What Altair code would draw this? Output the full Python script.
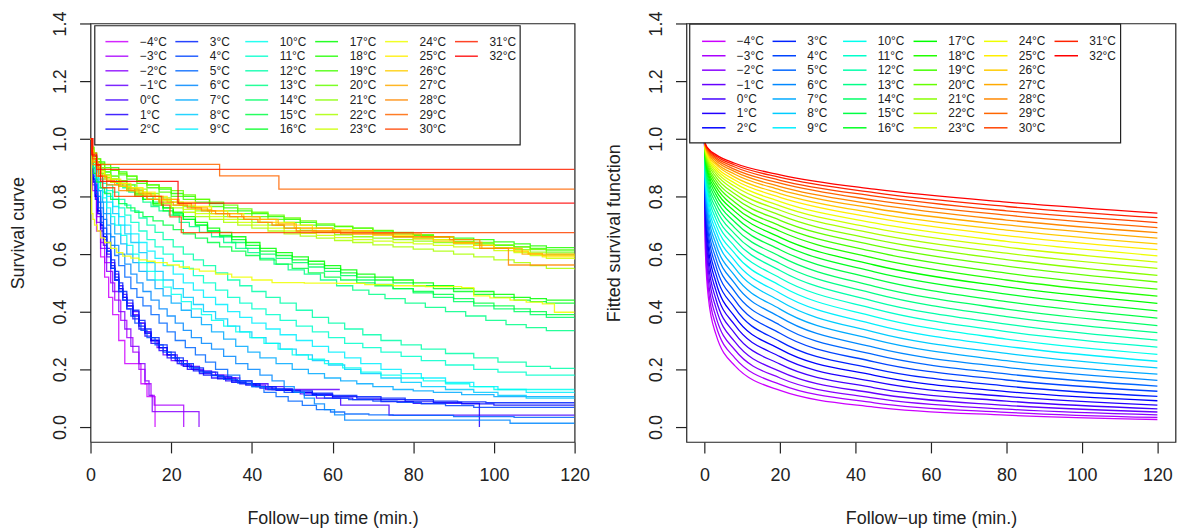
import altair as alt
import pandas as pd

FONT = "Liberation Sans"
INK = "#222222"

# ---------------- categories ----------------
temps = [-4, -3, -2, -1, 0, 1, 2, 3, 4, 5, 6, 7, 8, 9, 10, 11, 12, 13, 14, 15, 16,
         17, 18, 19, 20, 21, 22, 23, 24, 25, 26, 27, 28, 29, 30, 31, 32]
temp_colors = ["#CC00FF", "#AA00FF", "#8800FF", "#6600FF", "#4400FF", "#2200FF", "#0000FF",
               "#0022FF", "#0044FF", "#0066FF", "#0088FF", "#00AAFF", "#00CCFF", "#00EEFF",
               "#00FFEE", "#00FFCC", "#00FFAA", "#00FF88", "#00FF66", "#00FF44", "#00FF22",
               "#00FF00", "#22FF00", "#44FF00", "#66FF00", "#88FF00", "#AAFF00", "#CCFF00",
               "#EEFF00", "#FFEE00", "#FFCC00", "#FFAA00", "#FF8800", "#FF6600", "#FF4400",
               "#FF2200", "#FF0000"]

# ---------------- left panel: Kaplan-Meier curves (time, survival) ----------------
km_m4 = [(0, 1.0), (0.5, 0.82), (1.5, 0.68), (2.5, 0.59), (3.5, 0.52), (4.5, 0.45), (5.5, 0.39),
         (7, 0.30), (8.5, 0.22), (12.5, 0.15), (14, 0.105), (16, 0.0)]
km_m3 = [(0, 1.0), (0.5, 0.85), (1.5, 0.73), (2.5, 0.64), (3.5, 0.57), (5, 0.50), (6, 0.44),
         (7.5, 0.37), (9, 0.31), (10.5, 0.26), (12, 0.20), (13.5, 0.15), (15, 0.11), (15.8, 0.076), (23.1, 0.0)]
km_m2 = [(0, 1.0), (0.5, 0.84), (1.5, 0.71), (2.5, 0.62), (4, 0.54), (5.5, 0.47), (7, 0.40),
         (8.5, 0.34), (10, 0.28), (12, 0.22), (13.5, 0.16), (14.5, 0.11), (15.3, 0.053), (26.9, 0.0)]
km_m1 = [(0, 1.0), (0.3, 0.92), (0.7, 0.86), (1.2, 0.80), (1.8, 0.74), (2.5, 0.68), (3.2, 0.63), (4, 0.59),
         (5, 0.55), (6, 0.51), (7, 0.48), (8, 0.45), (9, 0.42), (10.5, 0.39), (12, 0.36), (13.5, 0.33),
         (15, 0.30), (16.5, 0.275), (18, 0.25), (20, 0.23), (22.5, 0.215), (25, 0.20), (28, 0.19),
         (31, 0.18), (34, 0.17), (37, 0.16), (40, 0.145), (43.4, 0.13), (61.8, 0.13)]
km_0 = [(0, 1.0), (0.3, 0.92), (0.7, 0.86), (1.2, 0.80), (1.8, 0.75), (2.5, 0.70), (3.2, 0.66), (4, 0.62),
        (5, 0.57), (6, 0.53), (7, 0.49), (8, 0.46), (9, 0.43), (10.5, 0.40), (12, 0.36), (13.5, 0.33),
        (15, 0.30), (17, 0.275), (19, 0.25), (21.5, 0.23), (24, 0.21), (27, 0.195), (30, 0.18), (33, 0.17),
        (36, 0.16), (40, 0.15), (44, 0.14), (48, 0.127), (52, 0.115), (56, 0.10), (62, 0.076), (74, 0.041),
        (120, 0.041)]
km_1 = [(0, 1.0), (0.3, 0.91), (0.7, 0.85), (1.2, 0.79), (1.8, 0.74), (2.5, 0.69), (3.2, 0.65), (4, 0.60),
        (5, 0.55), (6, 0.51), (7, 0.47), (8, 0.44), (9, 0.41), (10.5, 0.375), (12, 0.34), (13.5, 0.315),
        (15, 0.29), (17, 0.265), (19, 0.24), (21.5, 0.22), (24, 0.20), (27, 0.185), (30, 0.17), (33.5, 0.16),
        (37, 0.15), (41, 0.14), (45, 0.13), (50, 0.12), (55, 0.11), (60, 0.10), (65, 0.095), (72, 0.088),
        (80, 0.082), (96.4, 0.0)]
km_2 = [(0, 1.0), (0.3, 0.92), (0.7, 0.86), (1.2, 0.80), (1.8, 0.75), (2.5, 0.70), (3.2, 0.66), (4, 0.61),
        (5, 0.56), (6, 0.52), (7, 0.48), (8, 0.45), (9, 0.42), (10.5, 0.385), (12, 0.35), (13.5, 0.325),
        (15, 0.30), (17, 0.275), (19, 0.25), (21, 0.23), (23, 0.21), (25.5, 0.195), (28, 0.18), (31.5, 0.167),
        (35, 0.155), (38.5, 0.145), (42, 0.135), (46, 0.127), (50, 0.12), (55, 0.112), (60, 0.105),
        (66, 0.10), (72, 0.095), (78, 0.09), (85, 0.085), (92, 0.08), (100, 0.076), (120, 0.076)]
km_3 = [(0, 1.0), (0.3, 0.93), (0.7, 0.88), (1.2, 0.82), (1.8, 0.78), (2.5, 0.73), (3.2, 0.69), (4, 0.64),
        (5, 0.58), (6, 0.54), (7, 0.50), (8, 0.47), (9, 0.44), (10.5, 0.405), (12, 0.37), (13.5, 0.34),
        (15, 0.31), (17, 0.285), (19, 0.26), (21, 0.24), (23, 0.22), (25.5, 0.205), (28, 0.19), (31.5, 0.175),
        (35, 0.16), (38.5, 0.15), (42, 0.14), (46, 0.132), (50, 0.125), (55, 0.117), (60, 0.11), (66, 0.105),
        (72, 0.10), (78, 0.095), (85, 0.09), (91, 0.087), (98, 0.084), (120, 0.084)]
km_4 = [(0, 1.0), (0.3, 0.92), (0.7, 0.87), (1.2, 0.81), (1.8, 0.76), (2.5, 0.71), (3.2, 0.67), (4, 0.61),
        (5, 0.55), (6, 0.51), (7, 0.47), (8, 0.44), (9, 0.41), (10, 0.385), (11, 0.36), (12.5, 0.335),
        (14, 0.31), (16, 0.285), (18, 0.26), (20, 0.24), (22, 0.22), (24.5, 0.205), (27, 0.19), (30, 0.178),
        (33, 0.165), (36.5, 0.152), (40, 0.14), (44, 0.13), (48, 0.12), (53, 0.11), (58, 0.10), (64, 0.095),
        (70, 0.09), (76, 0.085), (82, 0.08), (88, 0.074), (95, 0.068), (120, 0.068)]
km_5 = [(0, 1.0), (0.3, 0.94), (0.7, 0.90), (1.2, 0.84), (1.8, 0.80), (2.5, 0.76), (3.2, 0.72), (4, 0.67),
        (5, 0.63), (6, 0.595), (7, 0.56), (8.5, 0.52), (10, 0.48), (11.5, 0.45), (13, 0.42), (15, 0.39),
        (17, 0.36), (19, 0.33), (21, 0.30), (23.5, 0.275), (26, 0.25), (28.5, 0.225), (31, 0.20), (34, 0.18),
        (37, 0.16), (40, 0.14), (43, 0.12), (46, 0.105), (49, 0.09), (52.5, 0.075), (56, 0.06),
        (59.5, 0.052), (63, 0.045), (69, 0.042), (75, 0.04), (90, 0.036), (105, 0.033), (120, 0.033)]
km_6 = [(0, 1.0), (0.3, 0.94), (0.7, 0.90), (1.2, 0.86), (1.8, 0.82), (2.5, 0.78), (3.2, 0.74), (4, 0.70),
        (5, 0.66), (6, 0.63), (7, 0.60), (8.5, 0.565), (10, 0.53), (11.5, 0.50), (13, 0.47), (15, 0.44),
        (17, 0.41), (19, 0.385), (21, 0.36), (23, 0.335), (25, 0.31), (27.5, 0.29), (30, 0.27), (33, 0.245),
        (36, 0.22), (39, 0.20), (42, 0.18), (45, 0.16), (48, 0.14), (50.5, 0.12), (53, 0.10), (55.5, 0.08),
        (58, 0.06), (60.5, 0.042), (63, 0.024), (104, 0.013), (120, 0.013)]
km_7 = [(0, 1.0), (0.3, 0.94), (0.7, 0.90), (1.3, 0.86), (2, 0.82), (3, 0.78), (4, 0.74), (5, 0.705),
        (6, 0.67), (7.5, 0.635), (9, 0.60), (10.5, 0.57), (12, 0.54), (14, 0.51), (16, 0.48), (18, 0.455),
        (20, 0.43), (22.5, 0.405), (25, 0.38), (27.5, 0.355), (30, 0.33), (33, 0.305), (36, 0.28), (39, 0.26),
        (42, 0.24), (46, 0.22), (50, 0.20), (54, 0.185), (58, 0.17), (62, 0.16), (66, 0.15), (70, 0.14),
        (75, 0.13), (80, 0.125), (85, 0.12), (92, 0.112), (100, 0.105), (120, 0.105)]
km_8 = [(0, 1.0), (0.3, 0.96), (0.7, 0.92), (1.3, 0.885), (2, 0.85), (3, 0.815), (4, 0.78), (5.5, 0.74),
        (7, 0.70), (8.5, 0.67), (10, 0.64), (12, 0.605), (14, 0.57), (16, 0.54), (18, 0.51), (20.5, 0.48),
        (23, 0.45), (25.5, 0.425), (28, 0.40), (31, 0.375), (34, 0.35), (37, 0.33), (40, 0.31), (43.5, 0.29),
        (47, 0.27), (51, 0.25), (55, 0.23), (59, 0.215), (63, 0.20), (67, 0.185), (72, 0.17), (77, 0.155),
        (82, 0.14), (88, 0.13), (95, 0.12), (101, 0.11), (108, 0.10), (120, 0.099)]
km_9 = [(0, 1.0), (0.3, 0.96), (0.7, 0.92), (1.3, 0.89), (2, 0.86), (3, 0.83), (4, 0.80), (5.5, 0.765),
        (7, 0.73), (8.5, 0.70), (10, 0.67), (12, 0.64), (14, 0.61), (16, 0.585), (18, 0.56), (20.5, 0.53),
        (23, 0.50), (25.5, 0.475), (28, 0.45), (31, 0.425), (34, 0.40), (37, 0.38), (40, 0.36), (43.5, 0.34),
        (47, 0.32), (51, 0.30), (55, 0.28), (59, 0.26), (63, 0.24), (67, 0.22), (72, 0.20), (77, 0.185),
        (82, 0.17), (88, 0.155), (95, 0.14), (101, 0.13), (108, 0.12), (120, 0.116)]
km_10 = [(0, 1.0), (0.3, 0.95), (0.7, 0.90), (1.3, 0.865), (2, 0.83), (3, 0.795), (4, 0.76), (5, 0.73),
         (6, 0.70), (7.5, 0.665), (9, 0.63), (10.5, 0.60), (12, 0.57), (14, 0.54), (16, 0.51), (18, 0.485),
         (20, 0.46), (22.5, 0.435), (25, 0.41), (27.5, 0.39), (30, 0.37), (33, 0.35), (36, 0.33),
         (39.5, 0.31), (43, 0.29), (46.5, 0.27), (50, 0.25), (54, 0.235), (58, 0.22), (62.5, 0.205),
         (67, 0.19), (72, 0.18), (77, 0.17), (82.5, 0.16), (88, 0.15), (94, 0.14), (100, 0.13), (120, 0.13)]
km_11 = [(0, 1.0), (0.3, 0.96), (0.7, 0.93), (1.3, 0.90), (2, 0.87), (3, 0.845), (4, 0.82), (5.5, 0.79),
         (7, 0.76), (8.5, 0.735), (10, 0.71), (12, 0.68), (14, 0.65), (16, 0.625), (18, 0.60), (20.5, 0.575),
         (23, 0.55), (25.5, 0.525), (28, 0.50), (31, 0.475), (34, 0.45), (37, 0.43), (40, 0.41),
         (43.5, 0.39), (47, 0.37), (51, 0.35), (55, 0.33), (59, 0.31), (63, 0.29), (67.5, 0.275), (72, 0.26),
         (77, 0.245), (82, 0.23), (88, 0.215), (95, 0.20), (101, 0.19), (108, 0.18), (120, 0.176)]
km_12 = [(0, 1.0), (0.3, 0.96), (0.7, 0.93), (1.3, 0.905), (2, 0.88), (3, 0.86), (4, 0.84), (5.5, 0.815),
         (7, 0.79), (8.5, 0.77), (10, 0.75), (12, 0.725), (14, 0.70), (16, 0.675), (18, 0.65), (20.5, 0.625),
         (23, 0.60), (25.5, 0.58), (28, 0.56), (31, 0.535), (34, 0.51), (37, 0.49), (40, 0.47), (43.5, 0.45),
         (47, 0.43), (51, 0.405), (55, 0.38), (59, 0.36), (63, 0.34), (67.5, 0.32), (72, 0.30), (77, 0.285),
         (82, 0.27), (88, 0.255), (95, 0.24), (101, 0.225), (108, 0.21), (114, 0.203), (120, 0.199)]
km_13 = [(0, 1.0), (0.3, 0.96), (0.8, 0.94), (1.5, 0.92), (2.5, 0.90), (3.5, 0.885), (5, 0.86), (6.5, 0.845),
         (8, 0.83), (9.5, 0.815), (11, 0.80), (13, 0.78), (15, 0.765), (17, 0.75), (19.5, 0.735), (22, 0.71),
         (24.5, 0.695), (27, 0.675), (30, 0.66), (33, 0.64), (36, 0.62), (39, 0.605), (42, 0.585),
         (45.5, 0.565), (49, 0.545), (53, 0.53), (57, 0.51), (61, 0.49), (65, 0.475), (69, 0.46), (73, 0.445),
         (78, 0.43), (83, 0.415), (88, 0.40), (93, 0.385), (98, 0.37), (103, 0.355), (108, 0.345),
         (113, 0.334), (120, 0.334)]
km_14 = [(0, 1.0), (0.3, 0.96), (0.8, 0.94), (1.5, 0.92), (2.5, 0.90), (3.5, 0.885), (5, 0.87), (7, 0.855),
         (9, 0.84), (11, 0.82), (13, 0.80), (15.5, 0.78), (18, 0.76), (20.5, 0.74), (23, 0.72), (26, 0.70),
         (29, 0.68), (32, 0.66), (35, 0.64), (38.5, 0.62), (42, 0.60), (46, 0.585), (50, 0.57), (54, 0.555),
         (58, 0.54), (62, 0.525), (66, 0.51), (70.5, 0.495), (75, 0.48), (80, 0.465), (85, 0.45), (90, 0.435),
         (95, 0.42), (100, 0.41), (105, 0.40), (109, 0.39), (113, 0.38), (120, 0.375)]
km_15 = [(0, 1.0), (0.3, 0.92), (0.8, 0.88), (1.5, 0.85), (2.5, 0.83), (3.5, 0.81), (5, 0.79), (7, 0.775),
         (9, 0.76), (11, 0.745), (13, 0.73), (15.5, 0.715), (18, 0.70), (20.5, 0.685), (23, 0.67), (26, 0.655),
         (29, 0.64), (32, 0.625), (35, 0.61), (38.5, 0.595), (42, 0.58), (46, 0.565), (50, 0.55), (54, 0.535),
         (58, 0.52), (62, 0.51), (66, 0.50), (70.5, 0.49), (75, 0.48), (80, 0.47), (85, 0.46), (90, 0.445),
         (95, 0.43), (100, 0.42), (105, 0.41), (109, 0.40), (113, 0.39), (120, 0.386)]
km_16 = [(0, 1.0), (0.3, 0.96), (0.8, 0.93), (1.5, 0.91), (2.5, 0.89), (3.5, 0.875), (5, 0.86), (7, 0.845),
         (9, 0.83), (11, 0.81), (13, 0.79), (15.5, 0.77), (18, 0.75), (20.5, 0.735), (23, 0.72), (26, 0.70),
         (29, 0.68), (32, 0.665), (35, 0.65), (38.5, 0.63), (42, 0.61), (46, 0.595), (50, 0.58), (54, 0.565),
         (58, 0.55), (62, 0.535), (66, 0.52), (70.5, 0.51), (75, 0.50), (80, 0.49), (85, 0.48), (90, 0.47),
         (95, 0.46), (100, 0.45), (105, 0.44), (109, 0.435), (113, 0.43), (120, 0.424)]
km_17 = [(0, 1.0), (0.3, 0.95), (0.8, 0.92), (1.5, 0.90), (2.5, 0.88), (3.5, 0.865), (5, 0.85), (7, 0.835),
         (9, 0.82), (11, 0.805), (13, 0.79), (15.5, 0.775), (18, 0.76), (20.5, 0.745), (23, 0.73), (26, 0.71),
         (29, 0.69), (32, 0.675), (35, 0.66), (38.5, 0.64), (42, 0.62), (46, 0.605), (50, 0.59), (54, 0.575),
         (58, 0.56), (62, 0.545), (66, 0.53), (70.5, 0.52), (75, 0.51), (80, 0.50), (85, 0.49), (90, 0.48),
         (95, 0.47), (100, 0.46), (105, 0.45), (109, 0.445), (113, 0.44), (120, 0.432)]
km_18 = [(0, 1.0), (0.3, 0.97), (0.8, 0.95), (1.5, 0.93), (2.5, 0.92), (3.5, 0.91), (5, 0.90), (7, 0.885),
         (9, 0.87), (11.5, 0.855), (14, 0.84), (17, 0.825), (20, 0.81), (23, 0.80), (26, 0.79), (29.5, 0.775),
         (33, 0.76), (36.5, 0.75), (40, 0.74), (44, 0.73), (48, 0.72), (52, 0.71), (56, 0.70), (60.5, 0.695),
         (65, 0.69), (70, 0.68), (75, 0.67), (80, 0.665), (85, 0.66), (90, 0.655), (95, 0.65), (100, 0.642),
         (105, 0.635), (109, 0.628), (113, 0.622), (120, 0.622)]
km_19 = [(0, 1.0), (0.3, 0.97), (0.8, 0.94), (1.5, 0.92), (2.5, 0.91), (3.5, 0.90), (5, 0.89), (7, 0.875),
         (9, 0.86), (11.5, 0.845), (14, 0.83), (17, 0.815), (20, 0.80), (23, 0.79), (26, 0.78), (29.5, 0.765),
         (33, 0.75), (36.5, 0.74), (40, 0.73), (44, 0.72), (48, 0.71), (52, 0.70), (56, 0.69), (60.5, 0.685),
         (65, 0.68), (70, 0.67), (75, 0.66), (80, 0.655), (85, 0.65), (90, 0.643), (95, 0.635), (100, 0.63),
         (105, 0.625), (109, 0.62), (113, 0.614), (120, 0.614)]
km_20 = [(0, 1.0), (0.3, 0.97), (0.8, 0.95), (1.5, 0.93), (2.5, 0.915), (3.5, 0.90), (5, 0.89), (7, 0.88),
         (9, 0.87), (11.5, 0.855), (14, 0.84), (17, 0.83), (20, 0.82), (23, 0.805), (26, 0.79), (29.5, 0.78),
         (33, 0.77), (36.5, 0.757), (40, 0.745), (44, 0.735), (48, 0.725), (52, 0.715), (56, 0.705),
         (60.5, 0.697), (65, 0.69), (70, 0.682), (75, 0.675), (80, 0.667), (85, 0.66), (90, 0.65), (95, 0.64),
         (100, 0.632), (105, 0.625), (109, 0.615), (113, 0.607), (120, 0.607)]
km_21 = [(0, 1.0), (0.3, 0.96), (0.8, 0.93), (1.5, 0.91), (2.5, 0.90), (3.5, 0.885), (5, 0.87), (7, 0.855),
         (9, 0.84), (11.5, 0.825), (14, 0.81), (17, 0.795), (20, 0.78), (23, 0.765), (26, 0.75), (29.5, 0.74),
         (33, 0.73), (36.5, 0.72), (40, 0.71), (44, 0.70), (48, 0.69), (52, 0.682), (56, 0.675), (60.5, 0.667),
         (65, 0.66), (70, 0.655), (75, 0.65), (80, 0.645), (85, 0.64), (90, 0.635), (95, 0.63), (100, 0.622),
         (105, 0.615), (109, 0.607), (113, 0.60), (120, 0.59)]
km_22 = [(0, 1.0), (0.3, 0.95), (0.8, 0.92), (1.5, 0.90), (2.5, 0.88), (3.5, 0.865), (5, 0.85), (7, 0.835),
         (9, 0.82), (11.5, 0.805), (14, 0.79), (17, 0.775), (20, 0.76), (23, 0.745), (26, 0.73), (29.5, 0.72),
         (33, 0.71), (36.5, 0.70), (40, 0.69), (44, 0.68), (48, 0.67), (52, 0.662), (56, 0.655), (60.5, 0.647),
         (65, 0.64), (70, 0.632), (75, 0.625), (80, 0.617), (85, 0.61), (90, 0.60), (95, 0.59), (100, 0.58),
         (105, 0.57), (109, 0.56), (113, 0.55), (120, 0.545)]
km_23 = [(0, 1.0), (0.3, 0.96), (0.8, 0.93), (1.5, 0.91), (2.5, 0.89), (3.5, 0.875), (5, 0.86), (7, 0.845),
         (9, 0.83), (11.5, 0.815), (14, 0.80), (17, 0.785), (20, 0.77), (23, 0.755), (26, 0.74), (29.5, 0.73),
         (33, 0.72), (36.5, 0.71), (40, 0.70), (44, 0.69), (48, 0.68), (52, 0.672), (56, 0.665), (60.5, 0.657),
         (65, 0.65), (70, 0.645), (75, 0.64), (80, 0.635), (85, 0.63), (90, 0.625), (95, 0.62), (100, 0.612),
         (105, 0.605), (109, 0.595), (113, 0.585), (120, 0.58)]
km_24 = [(0, 1.0), (0.3, 0.74), (0.6, 0.72), (1, 0.70), (1.7, 0.68), (2.5, 0.656), (3.5, 0.64), (5, 0.62),
         (6.5, 0.605), (8, 0.593), (10, 0.586), (12, 0.58), (14, 0.575), (16, 0.57), (19, 0.562), (22, 0.555),
         (24.5, 0.548), (27, 0.541), (31, 0.53), (35, 0.52), (40, 0.51), (45, 0.501), (53, 0.499),
         (61, 0.498), (68, 0.494), (75, 0.49), (83, 0.487), (92, 0.483), (95, 0.455), (99, 0.448),
         (104, 0.44), (108, 0.433), (112, 0.427), (115, 0.398), (120, 0.398)]
km_25 = [(0, 1.0), (0.3, 0.96), (0.8, 0.93), (1.5, 0.91), (2.5, 0.885), (3.5, 0.87), (5, 0.86), (7.5, 0.845),
         (10, 0.83), (13, 0.815), (16, 0.80), (19, 0.79), (22, 0.78), (26, 0.765), (30, 0.75), (34, 0.74),
         (38, 0.73), (42, 0.72), (46, 0.71), (50.5, 0.70), (55, 0.69), (60, 0.685), (65, 0.68), (70, 0.672),
         (75, 0.665), (80, 0.657), (85, 0.65), (90, 0.64), (95, 0.63), (100, 0.62), (105, 0.61),
         (108.5, 0.60), (112, 0.59), (120, 0.582)]
km_26 = [(0, 1.0), (0.3, 0.95), (0.8, 0.92), (1.5, 0.90), (2.5, 0.875), (3.5, 0.86), (5, 0.85), (7.5, 0.835),
         (10, 0.82), (13, 0.805), (16, 0.79), (19, 0.78), (22, 0.77), (26, 0.755), (30, 0.74), (34, 0.73),
         (38, 0.72), (42, 0.71), (46, 0.70), (50.5, 0.69), (55, 0.68), (60, 0.675), (65, 0.67), (70, 0.665),
         (75, 0.66), (80, 0.652), (85, 0.645), (90, 0.637), (95, 0.63), (100, 0.62), (105, 0.61),
         (108.5, 0.602), (112, 0.595), (120, 0.59)]
km_27 = [(0, 1.0), (0.5, 0.92), (2, 0.87), (4, 0.855), (6, 0.84), (9, 0.825), (12, 0.81), (15, 0.80),
         (18, 0.79), (21.5, 0.775), (25, 0.76), (29, 0.75), (33, 0.74), (37.5, 0.73), (42, 0.72),
         (46.5, 0.705), (51, 0.69), (60, 0.68), (70, 0.67), (82, 0.66), (90, 0.64), (97, 0.62), (107, 0.60),
         (120, 0.597)]
km_28 = [(0, 1.0), (0.5, 0.91), (2, 0.87), (4, 0.84), (7, 0.82), (11, 0.80), (14, 0.79), (17, 0.78),
         (20.5, 0.77), (24, 0.76), (27.5, 0.75), (31, 0.74), (34.5, 0.73), (38, 0.72), (41.5, 0.71), (45, 0.70),
         (48, 0.69), (51, 0.68), (62, 0.67), (75, 0.66), (89, 0.65), (96.5, 0.62), (103.6, 0.562), (120, 0.562)]
km_29 = [(0, 1.0), (0.5, 0.95), (1.5, 0.911), (32, 0.871), (46.7, 0.825), (120, 0.825)]
km_30 = [(0, 1.0), (0.5, 0.93), (1.5, 0.87), (3, 0.83), (6, 0.80), (17.6, 0.77), (19.7, 0.729),
         (22.5, 0.674), (120, 0.674)]
km_31 = [(0, 1.0), (0.5, 0.94), (1.5, 0.894), (120, 0.894)]
km_32 = [(0, 1.0), (0.3, 0.944), (1.5, 0.909), (2.5, 0.852), (21.7, 0.777), (120, 0.777)]

km_curves = [km_m4, km_m3, km_m2, km_m1, km_0, km_1, km_2, km_3, km_4, km_5, km_6, km_7, km_8,
             km_9, km_10, km_11, km_12, km_13, km_14, km_15, km_16, km_17, km_18, km_19, km_20,
             km_21, km_22, km_23, km_24, km_25, km_26, km_27, km_28, km_29, km_30, km_31, km_32]

# ---------------- right panel: fitted survival, read at these times ----------------
fit_times = [0, 0.2, 1, 3, 8, 20, 45, 80, 120]
fit_t0 = [1.0] * 37
fit_t0p2 = [0.619, 0.646, 0.671, 0.696, 0.718, 0.740, 0.760, 0.779, 0.796, 0.813, 0.828, 0.842, 0.855,
            0.867, 0.878, 0.888, 0.897, 0.906, 0.914, 0.921, 0.928, 0.934, 0.940, 0.945, 0.950, 0.954,
            0.958, 0.962, 0.965, 0.968, 0.971, 0.974, 0.976, 0.978, 0.980, 0.982, 0.983]
fit_t1 = [0.450, 0.481, 0.511, 0.541, 0.569, 0.596, 0.623, 0.648, 0.672, 0.694, 0.716, 0.736, 0.755,
          0.773, 0.790, 0.806, 0.820, 0.834, 0.847, 0.859, 0.870, 0.880, 0.889, 0.898, 0.906, 0.914,
          0.920, 0.927, 0.933, 0.938, 0.943, 0.948, 0.952, 0.956, 0.960, 0.963, 0.966]
fit_t3 = [0.322, 0.353, 0.383, 0.414, 0.444, 0.474, 0.503, 0.531, 0.559, 0.585, 0.611, 0.635, 0.659,
          0.681, 0.702, 0.722, 0.741, 0.759, 0.776, 0.792, 0.807, 0.821, 0.834, 0.846, 0.857, 0.868,
          0.878, 0.887, 0.895, 0.903, 0.911, 0.917, 0.924, 0.930, 0.935, 0.940, 0.945]
fit_t8 = [0.213, 0.240, 0.268, 0.296, 0.325, 0.354, 0.383, 0.413, 0.441, 0.470, 0.498, 0.525, 0.552,
          0.577, 0.602, 0.626, 0.649, 0.670, 0.691, 0.711, 0.730, 0.748, 0.764, 0.780, 0.795, 0.809,
          0.822, 0.835, 0.846, 0.857, 0.867, 0.877, 0.886, 0.894, 0.902, 0.909, 0.915]
fit_t20 = [0.127, 0.148, 0.170, 0.193, 0.218, 0.244, 0.270, 0.297, 0.325, 0.353, 0.381, 0.409, 0.437,
           0.464, 0.491, 0.517, 0.543, 0.567, 0.592, 0.615, 0.637, 0.658, 0.679, 0.698, 0.717, 0.735,
           0.752, 0.767, 0.782, 0.797, 0.810, 0.823, 0.834, 0.846, 0.856, 0.866, 0.875]
fit_t45 = [0.069, 0.084, 0.100, 0.117, 0.136, 0.157, 0.179, 0.202, 0.226, 0.251, 0.276, 0.303, 0.329,
           0.356, 0.383, 0.410, 0.436, 0.463, 0.488, 0.514, 0.538, 0.562, 0.586, 0.608, 0.630, 0.651,
           0.671, 0.690, 0.708, 0.726, 0.742, 0.758, 0.773, 0.787, 0.801, 0.813, 0.825]
fit_t80 = [0.041, 0.051, 0.062, 0.075, 0.090, 0.106, 0.123, 0.142, 0.163, 0.184, 0.207, 0.230, 0.255,
           0.280, 0.305, 0.331, 0.357, 0.383, 0.409, 0.435, 0.461, 0.486, 0.510, 0.534, 0.558, 0.581,
           0.603, 0.624, 0.644, 0.664, 0.683, 0.701, 0.718, 0.735, 0.750, 0.765, 0.780]
fit_t120 = [0.026, 0.033, 0.042, 0.052, 0.063, 0.076, 0.091, 0.106, 0.124, 0.142, 0.162, 0.183, 0.205,
            0.228, 0.252, 0.277, 0.301, 0.327, 0.352, 0.378, 0.403, 0.429, 0.454, 0.478, 0.503, 0.526,
            0.550, 0.572, 0.594, 0.615, 0.635, 0.655, 0.674, 0.692, 0.709, 0.726, 0.742]
fit_columns = [fit_t0, fit_t0p2, fit_t1, fit_t3, fit_t8, fit_t20, fit_t45, fit_t80, fit_t120]

x_ticks = [0, 20, 40, 60, 80, 100, 120]
y_ticks = [0.0, 0.2, 0.4, 0.6, 0.8, 1.0, 1.2, 1.4]


def label_of(t):
    return ("\u2212" if t < 0 else "") + f"{abs(t)}\u00b0C"


labels = [label_of(t) for t in temps]

km_rows = []
for lab, pts in zip(labels, km_curves):
    for t, s in pts:
        km_rows.append({"label": lab, "time": t, "surv": s})
km_df = pd.DataFrame(km_rows)

fit_rows = []
for i, lab in enumerate(labels):
    for t, col in zip(fit_times, fit_columns):
        fit_rows.append({"label": lab, "time": t, "surv": col[i]})
fit_df = pd.DataFrame(fit_rows)


def legend_frame(line_x0, line_len, text_x0, col_step, row_y0, row_step):
    rows = []
    for i, lab in enumerate(labels):
        c, r = divmod(i, 7)
        x1 = line_x0 + c * col_step
        rows.append({"label": lab, "time": x1, "time2": x1 + line_len,
                     "tx": text_x0 + c * col_step, "surv": row_y0 - r * row_step})
    return pd.DataFrame(rows)


leg_left = legend_frame(3.70, 5.67, 12.25, 17.33, 1.337, 0.0506)
leg_right = legend_frame(-0.66, 6.22, 8.56, 18.68, 1.338, 0.0500)

color_scale = alt.Scale(domain=labels, range=temp_colors)
y_scale = alt.Scale(domain=[-0.052, 1.40], nice=False, zero=False)
FS = 18


def x_axis():
    return alt.Axis(values=x_ticks, format="d", tickSize=11, tickWidth=1.2, tickColor=INK,
                    domain=False, grid=False, labelFont=FONT, labelFontSize=FS, labelColor=INK,
                    labelBaseline="alphabetic", labelPadding=28, labelFlush=False, labelOverlap=False,
                    title="Follow\u2212up time (min.)", titleFont=FONT, titleFontSize=FS,
                    titleFontWeight="normal", titleColor=INK, titleBaseline="alphabetic",
                    titleY=82)


def y_axis(title):
    return alt.Axis(values=y_ticks, format=".1f", tickSize=11, tickWidth=1.2, tickColor=INK,
                    domain=False, grid=False, labelFont=FONT, labelFontSize=FS, labelColor=INK,
                    labelAngle=270, labelAlign="center", labelBaseline="alphabetic", labelPadding=14,
                    labelFlush=False, labelOverlap=False,
                    title=title, titleFont=FONT, titleFontSize=FS, titleFontWeight="normal",
                    titleColor=INK, titleAngle=270, titleBaseline="alphabetic", titleAlign="center",
                    titleX=-67)


def panel(base, xdom, ytitle, leg_df, box, width, opacity):
    xs = alt.Scale(domain=xdom, nice=False, zero=False)
    lines = base.encode(
        x=alt.X("time:Q", scale=xs, axis=x_axis()),
        y=alt.Y("surv:Q", scale=y_scale, axis=y_axis(ytitle)),
        color=alt.Color("label:N", scale=color_scale, legend=None),
    )
    frame = alt.Chart(pd.DataFrame({"time": [box[0]], "time2": [box[1]],
                                    "surv": [box[2]], "surv2": [box[3]]})).mark_rect(
        fill="white", stroke=INK, strokeWidth=1.2).encode(
        x="time:Q", x2="time2:Q", y="surv:Q", y2="surv2:Q")
    leg_lines = alt.Chart(leg_df).mark_rule(strokeWidth=1.5, opacity=opacity).encode(
        x="time:Q", x2="time2:Q", y="surv:Q",
        color=alt.Color("label:N", scale=color_scale, legend=None))
    leg_text = alt.Chart(leg_df).mark_text(align="left", baseline="middle", font=FONT,
                                           fontSize=12, color=INK).encode(
        x="tx:Q", y="surv:Q", text="label:N")
    return alt.layer(lines, frame, leg_lines, leg_text).properties(width=width, height=421)


left_base = alt.Chart(km_df).mark_line(interpolate="step-after", strokeWidth=1.3, opacity=0.85,
                                       clip=True)
right_base = alt.Chart(fit_df).mark_line(interpolate="monotone", strokeWidth=1.3, clip=True)

left = panel(left_base, [0, 120], "Survival curve", leg_left,
             (1.06, 106.5, 1.392, 0.979), 487, 0.85)
right = panel(right_base, [-4.8, 124.8], "Fitted survival function", leg_right,
              (-3.93, 110.25, 1.398, 0.986), 492, 1.0)

chart = alt.hconcat(left, right, spacing=14.5).properties(
    padding={"left": 1, "top": 0, "right": 0, "bottom": 0},
    background="white",
).configure_view(stroke=INK, strokeWidth=1.2)

chart.save("out.html", embed_options={"renderer": "svg", "actions": False})
